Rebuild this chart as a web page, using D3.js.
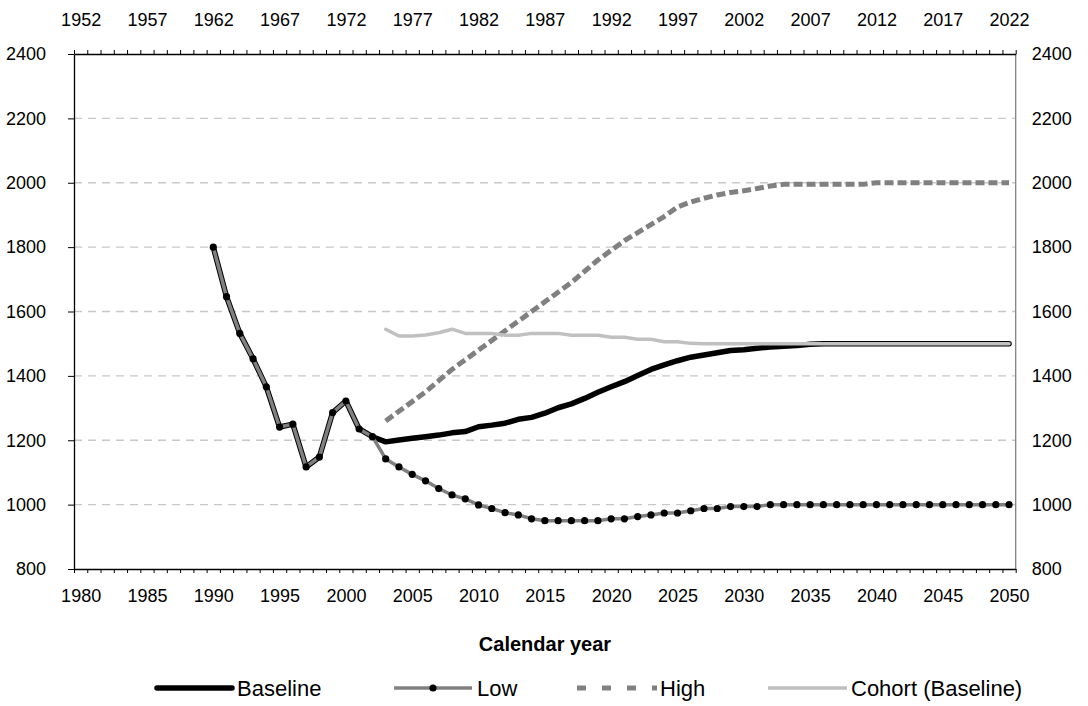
<!DOCTYPE html>
<html>
<head>
<meta charset="utf-8">
<script src="https://cdn.jsdelivr.net/npm/d3@7"></script>
<style>
  html, body { margin: 0; padding: 0; background: #fff; }
  svg { display: block; font-family: "Liberation Sans", Arial, sans-serif; }
</style>
</head>
<body>
<svg id="chart" width="1088" height="706"></svg>
<script>
// Calendar years on the category axis
const startYear = 1980;
const endYear = 2050;
const topYearOffset = 28; // upper axis shows the birth-cohort year

// Series (per calendar year)
const baselineYears = d3.range(1990, 2051);
const baselineValues = [
  1800, 1646, 1532, 1453, 1366, 1241, 1250, 1117, 1148, 1286, 1322, 1235, 1211,
  1195, 1201, 1206, 1211, 1216, 1223, 1227, 1242, 1247, 1253,
  1265, 1271, 1284, 1301, 1313, 1330, 1349, 1366, 1382, 1401,
  1420, 1434, 1447, 1458, 1465, 1472, 1479, 1481, 1486, 1490,
  1492, 1494, 1498, 1500, 1500, 1500, 1500, 1500, 1500, 1500,
  1500, 1500, 1500, 1500, 1500, 1500, 1500, 1500
];
const lowYears = d3.range(1990, 2051);
const lowValues = [
  1800, 1646, 1532, 1453, 1366, 1241, 1250, 1117, 1148, 1286, 1322, 1235, 1211,
  1142, 1117, 1094, 1074, 1050, 1030, 1018, 999, 988, 975,
  968, 956, 950, 950, 950, 950, 950, 956, 956, 963,
  968, 974, 974, 981, 988, 988, 994, 994, 994, 1000,
  1000, 1000, 1000, 1000, 1000, 1000, 1000, 1000, 1000, 1000,
  1000, 1000, 1000, 1000, 1000, 1000, 1000, 1000
];
const highYears = d3.range(2003, 2051);
const highValues = [
  1260, 1290, 1320, 1350, 1385, 1420, 1450, 1480, 1510, 1540,
  1570, 1600, 1630, 1660, 1690, 1725, 1760, 1790, 1820, 1845,
  1870, 1895, 1925, 1940, 1952, 1962, 1970, 1975, 1982, 1990,
  1995, 1995, 1995, 1995, 1995, 1995, 1995, 2000, 2000, 2000,
  2000, 2000, 2000, 2000, 2000, 2000, 2000, 2000
];
const cohortYears = d3.range(2003, 2051);
const cohortValues = [
  1545, 1524, 1524, 1527, 1534, 1545, 1532, 1532, 1532, 1526,
  1526, 1532, 1532, 1532, 1526, 1526, 1526, 1520, 1520, 1514,
  1514, 1506, 1506, 1501, 1500, 1500, 1500, 1500, 1500, 1500,
  1500, 1500, 1500, 1500, 1500, 1500, 1500, 1500, 1500, 1500,
  1500, 1500, 1500, 1500, 1500, 1500, 1500, 1500
];

// Axis ticks
const yTicks = [800, 1000, 1200, 1400, 1600, 1800, 2000, 2200, 2400];
const xLabelYears = d3.range(startYear, endYear + 1, 5);
const xTitle = "Calendar year";
const legendLabels = ["Baseline", "Low", "High", "Cohort (Baseline)"];

// ---- layout ----
const svg = d3.select("#chart");
const plot = { left: 74, right: 1015.7, top: 54, bottom: 569 };

// boundary scale: year y occupies [y, y+1)
const xb = d3.scaleLinear().domain([startYear, endYear + 1]).range([plot.left, plot.right]);
const xc = yr => xb(yr + 0.5);
const y = d3.scaleLinear().domain([800, 2400]).range([plot.bottom, plot.top]);

const fontTick = 18;
const fontFamily = "Liberation Sans, Arial, sans-serif";

// gridlines
svg.append("g")
  .selectAll("line")
  .data(yTicks.filter(t => t > 800 && t < 2400))
  .join("line")
  .attr("x1", plot.left).attr("x2", plot.right)
  .attr("y1", d => y(d)).attr("y2", d => y(d))
  .attr("stroke", "#c8c8c8").attr("stroke-width", 1.3)
  .attr("stroke-dasharray", "8,6");

// right frame
svg.append("line")
  .attr("x1", plot.right).attr("x2", plot.right)
  .attr("y1", plot.top).attr("y2", plot.bottom)
  .attr("stroke", "#808080").attr("stroke-width", 1.3);

// bottom axis: tick marks at category boundaries
const boundaries = d3.range(startYear, endYear + 2);
const bottomAxis = svg.append("g").attr("transform", `translate(0,${plot.bottom})`)
  .call(d3.axisBottom(xb).tickValues(boundaries).tickFormat("").tickSize(4).tickSizeOuter(0));
bottomAxis.select(".domain").attr("stroke", "#000").attr("stroke-width", 1.3);
bottomAxis.selectAll(".tick line").attr("stroke", "#000");

// bottom labels centred on categories
const bottomLabels = svg.append("g").attr("transform", `translate(0,${plot.bottom})`)
  .call(d3.axisBottom(xb)
    .tickValues(xLabelYears.map(v => v + 0.5))
    .tickFormat(v => String(Math.floor(v)))
    .tickSize(0).tickPadding(20));
bottomLabels.select(".domain").remove();
bottomLabels.selectAll("text").attr("font-size", fontTick).attr("fill", "#000")
  .attr("font-family", fontFamily);

// top axis
const topAxis = svg.append("g").attr("transform", `translate(0,${plot.top})`)
  .call(d3.axisTop(xb).tickValues(boundaries).tickFormat("").tickSize(4).tickSizeOuter(0));
topAxis.select(".domain").attr("stroke", "#000").attr("stroke-width", 1.3);
topAxis.selectAll(".tick line").attr("stroke", "#000");

const topLabels = svg.append("g").attr("transform", `translate(0,${plot.top})`)
  .call(d3.axisTop(xb)
    .tickValues(xLabelYears.map(v => v + 0.5))
    .tickFormat(v => String(Math.floor(v) - topYearOffset))
    .tickSize(0).tickPadding(28));
topLabels.select(".domain").remove();
topLabels.selectAll("text").attr("font-size", fontTick).attr("fill", "#000")
  .attr("font-family", fontFamily);

// left axis
const leftAxis = svg.append("g").attr("transform", `translate(${plot.left},0)`)
  .call(d3.axisLeft(y).tickValues(yTicks).tickFormat(d3.format("d")).tickSize(6).tickPadding(22).tickSizeOuter(0));
leftAxis.select(".domain").attr("stroke", "#000").attr("stroke-width", 1.3);
leftAxis.selectAll(".tick line").attr("stroke", "#000");
leftAxis.selectAll("text").attr("font-size", fontTick).attr("fill", "#000")
  .attr("font-family", fontFamily);

// right axis labels only
const rightAxis = svg.append("g").attr("transform", `translate(${plot.right},0)`)
  .call(d3.axisRight(y).tickValues(yTicks).tickFormat(d3.format("d")).tickSize(0).tickPadding(16));
rightAxis.select(".domain").remove();
rightAxis.selectAll("text").attr("font-size", fontTick).attr("fill", "#000")
  .attr("font-family", fontFamily);

// axis title
svg.append("text")
  .attr("x", 545).attr("y", 651)
  .attr("text-anchor", "middle").attr("font-weight", "bold").attr("font-size", 20)
  .text(xTitle);

// ---- series ----
const line = d3.line().x(d => xc(d[0])).y(d => y(d[1]));
const zipSeries = (yrs, vals) => yrs.map((yr, i) => [yr, vals[i]]);

const baseline = zipSeries(baselineYears, baselineValues);
const low = zipSeries(lowYears, lowValues);
const high = zipSeries(highYears, highValues);
const cohort = zipSeries(cohortYears, cohortValues);

const lines = svg.append("g").attr("fill", "none").attr("stroke-linejoin", "round");

lines.append("path").datum(baseline).attr("d", line)
  .attr("stroke", "#000").attr("stroke-width", 5.5).attr("stroke-linecap", "round");

lines.append("path").datum(low).attr("d", line)
  .attr("stroke", "#808080").attr("stroke-width", 3.5);

svg.append("g").selectAll("circle").data(low).join("circle")
  .attr("cx", d => xc(d[0])).attr("cy", d => y(d[1])).attr("r", 3.6).attr("fill", "#000");

lines.append("path").datum(high).attr("d", line)
  .attr("stroke", "#808080").attr("stroke-width", 5).attr("stroke-dasharray", "9,4");

lines.append("path").datum(cohort).attr("d", line)
  .attr("stroke", "#c0c0c0").attr("stroke-width", 3.5).attr("stroke-linecap", "round");

// ---- legend ----
const legendY = 688;
const legend = svg.append("g");
const legendItems = [
  { x0: 157, x1: 232, tx: 237, stroke: "#000", width: 5.5, dash: null, marker: false, cap: "round" },
  { x0: 394, x1: 472, tx: 477, stroke: "#808080", width: 3.5, dash: null, marker: true, cap: "butt" },
  { x0: 577, x1: 657, tx: 660, stroke: "#808080", width: 5, dash: "9,16", marker: false, cap: "butt" },
  { x0: 768, x1: 847, tx: 851, stroke: "#c0c0c0", width: 3.5, dash: null, marker: false, cap: "butt" }
];
legendItems.forEach((it, i) => {
  legend.append("line")
    .attr("x1", it.x0).attr("x2", it.x1).attr("y1", legendY).attr("y2", legendY)
    .attr("stroke", it.stroke).attr("stroke-width", it.width)
    .attr("stroke-linecap", it.cap)
    .attr("stroke-dasharray", it.dash);
  if (it.marker) {
    legend.append("circle").attr("cx", (it.x0 + it.x1) / 2).attr("cy", legendY).attr("r", 3.6).attr("fill", "#000");
  }
  legend.append("text").attr("x", it.tx).attr("y", legendY).attr("dy", "0.35em")
    .attr("font-size", 22).text(legendLabels[i]);
});
</script>
</body>
</html>
